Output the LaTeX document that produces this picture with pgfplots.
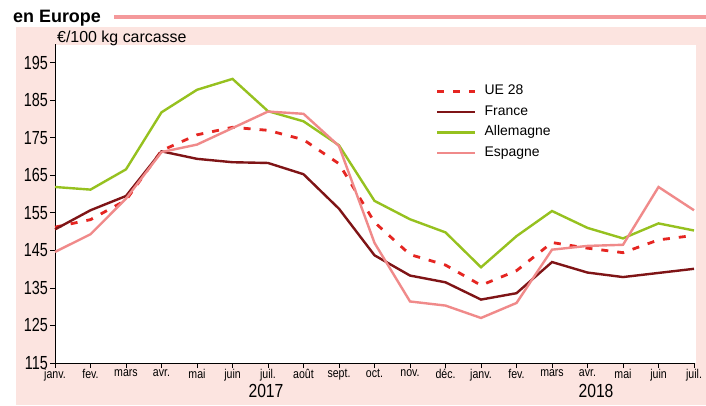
\documentclass[border=0pt]{standalone}
\usepackage{fontspec}
\setmainfont{Liberation Sans}
\newfontfamily\narrowfont[FakeStretch=0.83]{Liberation Sans}
\newfontfamily\ticknarrow[FakeStretch=0.76]{Liberation Sans}
\usepackage{pgfplots}
\usepackage{pgfplotstable}
\pgfplotsset{compat=1.18}

\definecolor{panelpink}{HTML}{FCE4E0}
\definecolor{barpink}{HTML}{F4999B}
\definecolor{cUE}{HTML}{E52521}
\definecolor{cFR}{HTML}{7F1416}
\definecolor{cDE}{HTML}{96C11F}
\definecolor{cES}{HTML}{F08A8A}

% month index, EUR/100 kg carcasse
\pgfplotstableread{
m  ue     fr     de     es
0  151.2  150.6  161.9  144.6
1  153.2  155.7  161.2  149.3
2  158.4  159.5  166.6  158.8
3  171.6  171.4  181.8  171.2
4  175.8  169.4  187.8  173.2
5  177.8  168.5  190.7  177.6
6  177.0  168.3  182.1  182.0
7  174.5  165.3  179.4  181.4
8  168.1  156.1  173.0  172.8
9  152.5  143.7  158.2  147.0
10 143.9  138.3  153.3  131.4
11 141.1  136.5  149.8  130.3
12 135.7  131.9  140.5  127.0
13 139.6  133.6  148.8  131.0
14 147.1  141.9  155.5  145.2
15 145.6  139.1  151.0  146.2
16 144.4  137.9  148.2  146.5
17 147.8  139.0  152.2  161.9
18 149.0  140.1  150.3  155.7
}\prices

\begin{document}
\begin{tikzpicture}[x=1bp,y=1bp]
\path[use as bounding box] (0,0) rectangle (706,405);
\fill[panelpink] (16,0) rectangle (706,378);
\fill[barpink] (114,386) rectangle (706,390);
\node[anchor=base west, inner sep=0pt, font=\bfseries\fontsize{18}{18}\selectfont] at (13,382.5) {en Europe};
\fill[white] (55,42) rectangle (696,360);
\node[anchor=base west, inner sep=0pt, font=\fontsize{16}{16}\selectfont] at (57,362.5) {€/100 kg carcasse};

\begin{axis}[
  at={(55bp,42bp)}, anchor=south west,
  scale only axis, width=639bp, height=319bp,
  xmin=0, xmax=18, ymin=115, ymax=200,
  axis lines=left, axis line style={-, line width=0.8bp, black},
  xtick={0,...,18},
  xticklabels={janv.,fev.,mars,avr.,mai,juin,juil.,août,sept.,oct.,nov.,déc.,janv.,fev.,mars,avr.,mai,juin,juil.},
  ytick={115,125,...,195},
  tick align=outside, major tick length=5bp,
  tick style={black, line width=0.8bp},
  /pgf/number format/assume math mode=true,
  yticklabel style={font=\ticknarrow\fontsize{19}{19}\selectfont, inner sep=0pt, xshift=-2bp},
  xticklabel style={font=\narrowfont\fontsize{12.8}{12.8}\selectfont, inner sep=0pt, yshift=-1bp},
  clip=false,
  legend cell align=left,
  legend image code/.code={\draw[#1] (0bp,0bp) -- (38bp,0bp);},
  legend style={at={(rel axis cs:0.596,0.8715)}, anchor=north west,
    draw=none, fill=none, inner sep=0pt, outer sep=0pt,
    font=\fontsize{14}{14}\selectfont, row sep=7.5bp, column sep=8bp,
    nodes={inner sep=0pt, text height=10bp, text depth=3bp}},
]
\addplot[cUE, line width=2.8bp, dash pattern=on 7bp off 9bp] table[x=m, y=ue] {\prices};
\addlegendentry{UE 28}
\addplot[cFR, line width=2.4bp] table[x=m, y=fr] {\prices};
\addlegendentry{France}
\addplot[cDE, line width=2.4bp] table[x=m, y=de] {\prices};
\addlegendentry{Allemagne}
\addplot[cES, line width=2.4bp] table[x=m, y=es] {\prices};
\addlegendentry{Espagne}
\end{axis}

\node[anchor=base, inner sep=0pt, font=\narrowfont\fontsize{19}{19}\selectfont] at (266,8) {2017};
\node[anchor=base, inner sep=0pt, font=\narrowfont\fontsize{19}{19}\selectfont] at (596,8) {2018};
\end{tikzpicture}
\end{document}
